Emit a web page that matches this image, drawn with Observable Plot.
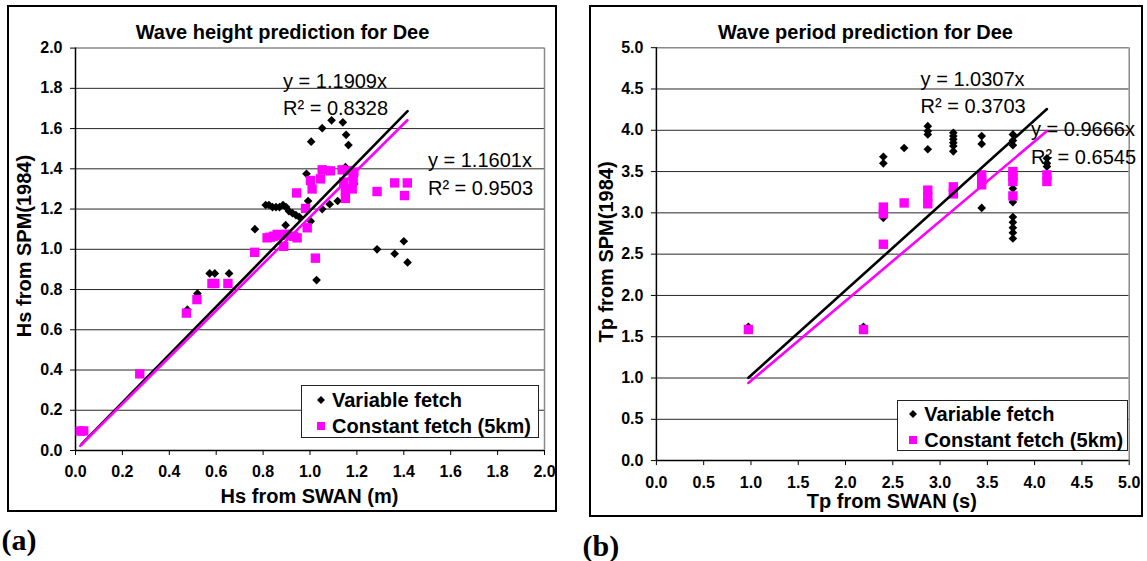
<!DOCTYPE html>
<html><head><meta charset="utf-8">
<script src="https://cdn.jsdelivr.net/npm/d3@7"></script>
<script src="https://cdn.jsdelivr.net/npm/@observablehq/plot@0.6"></script>
<style>
body{margin:0;background:#fff;font-family:"Liberation Sans",Arial,sans-serif;}
#root{position:relative;width:1147px;height:561px;overflow:hidden;background:#fff;}
.frame{position:absolute;border:2px solid #000;box-sizing:border-box;}
.ctr{position:absolute;white-space:nowrap;line-height:1;transform:translate(-50%,-50%);font-family:"Liberation Sans",Arial,sans-serif;}
.title{font-weight:bold;font-size:20px;}
.axl{font-weight:bold;font-size:20px;}
.rot{transform:translate(-50%,-50%) rotate(-90deg);}
.tag{position:absolute;font-family:"Liberation Serif","Times New Roman",serif;font-weight:bold;font-size:30px;line-height:30px;}
.legend{position:absolute;background:#fff;border:1.5px solid #222;box-sizing:border-box;}
.row{position:absolute;font-weight:bold;font-size:20px;line-height:1;white-space:nowrap;transform:translateY(-50%);}
.mk{position:absolute;transform:translate(-50%,-50%);}
svg.plotsvg{position:absolute;}
</style>
</head><body><div id="root"></div>
<script>
// ---------- data ----------
const hsTicks = [0, 0.2, 0.4, 0.6, 0.8, 1.0, 1.2, 1.4, 1.6, 1.8, 2.0];
const tpTicks = [0, 0.5, 1.0, 1.5, 2.0, 2.5, 3.0, 3.5, 4.0, 4.5, 5.0];
const seriesNames = ["Variable fetch", "Constant fetch (5km)"];

// (a) wave height, variable fetch
const hsVarX = [0.025,0.275,0.477,0.520,0.572,0.594,0.655,0.765,0.811,0.825,0.840,0.855,0.870,0.885,0.898,0.896,0.910,0.925,0.940,0.955,0.985,0.992,1.003,1.005,1.028,1.052,1.052,1.084,1.092,1.118,1.140,1.151,1.154,1.164,1.189,1.180,1.286,1.361,1.400,1.416];
const hsVarY = [0.10,0.38,0.70,0.78,0.88,0.88,0.88,1.10,1.22,1.22,1.21,1.21,1.21,1.22,1.21,1.12,1.19,1.18,1.17,1.16,1.375,1.24,1.14,1.535,0.847,1.602,1.20,1.224,1.641,1.24,1.631,1.409,1.569,1.518,1.325,1.35,1.00,0.978,1.04,0.935];
// (a) wave height, constant fetch
const hsConX = [0.020,0.035,0.274,0.473,0.518,0.582,0.594,0.650,0.764,0.817,0.830,0.845,0.860,0.875,0.888,0.900,0.930,0.945,0.943,0.981,0.988,1.002,1.009,1.023,1.045,1.052,1.087,1.137,1.161,1.144,1.151,1.151,1.180,1.184,1.187,1.286,1.361,1.415,1.403];
const hsConY = [0.097,0.097,0.381,0.683,0.750,0.830,0.830,0.830,0.985,1.057,1.060,1.065,1.074,1.070,1.015,1.075,1.065,1.057,1.280,1.203,1.107,1.342,1.300,0.956,1.350,1.395,1.390,1.395,1.390,1.334,1.292,1.253,1.300,1.342,1.384,1.287,1.330,1.330,1.267];
const hsVarSlope = 1.1909, hsConSlope = 1.1601;
const hsLabels = ["y = 1.1909x", "R² = 0.8328", "y = 1.1601x", "R² = 0.9503"];

// (b) wave period, variable fetch
const tpVarX = [0.973,2.19,2.40,2.40,2.40,2.62,2.87,2.87,2.87,2.87,3.14,3.14,3.14,3.14,3.14,3.14,3.44,3.44,3.44,3.77,3.77,3.77,3.77,3.77,3.77,3.77,3.77,3.77,3.77,4.13,4.13,4.13];
const tpVarY = [1.62,1.62,3.68,3.60,2.94,3.785,4.05,3.99,3.95,3.77,3.97,3.93,3.89,3.85,3.81,3.745,3.93,3.835,3.06,3.95,3.875,3.82,3.295,3.13,2.95,2.885,2.82,2.76,2.69,3.66,3.60,3.56];
// (b) wave period, constant fetch
const tpConX = [0.973,2.19,2.40,2.40,2.40,2.62,2.87,2.87,2.87,3.14,3.14,3.44,3.44,3.44,3.77,3.77,3.77,3.77,4.13,4.13];
const tpConY = [1.587,1.587,3.07,2.99,2.62,3.12,3.275,3.19,3.11,3.315,3.23,3.46,3.40,3.34,3.50,3.44,3.38,3.205,3.46,3.38];
const tpVarSlope = 1.0307, tpConSlope = 0.9666;
const tpLabels = ["y = 1.0307x", "R² = 0.3703", "y = 0.9666x", "R² = 0.6545"];

// ---------- drawing ----------
const root = document.getElementById("root");
const MAGENTA = "#ff00ff";
const diamondSym = d3.symbolDiamond2 || d3.symbolDiamond;
const fmt = d3.format(".1f");
const FONT = "'Liberation Sans', Arial, sans-serif";

function toRows(xs, ys) { return xs.map((x, i) => ({x, y: ys[i]})); }
function fit(xs, slope) { return d3.extent(xs).map(x => ({x, y: slope * x})); }

function el(tag, cls, css, text) {
  const e = document.createElement(tag);
  if (cls) e.className = cls;
  Object.assign(e.style, css || {});
  if (text != null) e.textContent = text;
  root.appendChild(e);
  return e;
}

function panel(cfg) {
  el("div", "frame", {left: cfg.left + "px", top: cfg.top + "px", width: cfg.width + "px", height: cfg.height + "px"});
  const max = cfg.ticks[cfg.ticks.length - 1];
  const svg = Plot.plot({
    width: cfg.width, height: cfg.height,
    marginLeft: cfg.mL, marginRight: cfg.mR, marginTop: cfg.mT, marginBottom: cfg.mB,
    x: {domain: [0, max]}, y: {domain: [0, max]},
    style: {fontFamily: FONT, fontSize: "16px", fontWeight: "bold", background: "transparent", overflow: "visible"},
    marks: [
      Plot.gridY(cfg.ticks.filter(t => t > 0 && t < max), {stroke: "#000", strokeOpacity: 0.85, strokeWidth: 1}),
      Plot.ruleY([max], {stroke: "#8a8a8a", strokeWidth: 1.5}),
      Plot.ruleX([max], {stroke: "#8a8a8a", strokeWidth: 1.5}),
      Plot.axisX(cfg.ticks, {tickSize: 5, tickPadding: cfg.padX, tickFormat: fmt, label: null, stroke: "#000",
        fontSize: 16, fontWeight: "bold", fontFamily: FONT}),
      Plot.axisY(cfg.ticks, {tickSize: 5, tickPadding: 8, tickFormat: fmt, label: null, stroke: "#000",
        fontSize: 16, fontWeight: "bold", fontFamily: FONT}),
      Plot.ruleY([0], {stroke: "#000", strokeWidth: 1.5}),
      Plot.ruleX([0], {stroke: "#000", strokeWidth: 1.5}),
      Plot.dot(toRows(cfg.varX, cfg.varY), {x: "x", y: "y", symbol: diamondSym, r: 3.9, fill: "#000", stroke: "none"}),
      Plot.dot(toRows(cfg.conX, cfg.conY), {x: "x", y: "y", symbol: "square", r: 5.3, fill: MAGENTA, stroke: "none"}),
      Plot.line(fit(cfg.varX, cfg.varSlope), {x: "x", y: "y", stroke: "#000", strokeWidth: 2.6}),
      Plot.line(fit(cfg.conX, cfg.conSlope), {x: "x", y: "y", stroke: MAGENTA, strokeWidth: 2.6}),
      Plot.text(cfg.labels, {x: (d, i) => cfg.notePos[i][0], y: (d, i) => cfg.notePos[i][1], text: d => d,
        textAnchor: "start", fontSize: 20, fontWeight: "normal", fontFamily: FONT, fill: "#000"})
    ]
  });
  svg.classList.add("plotsvg");
  svg.style.left = cfg.left + "px";
  svg.style.top = cfg.top + "px";
  root.appendChild(svg);

  el("div", "ctr title", {left: cfg.titleX + "px", top: cfg.titleY + "px"}, cfg.title);
  el("div", "ctr axl", {left: cfg.xlX + "px", top: cfg.xlY + "px", fontSize: "20px"}, cfg.xLabel);
  el("div", "ctr axl rot", {left: cfg.ylX + "px", top: cfg.ylY + "px", fontSize: "20px"}, cfg.yLabel);
  el("div", "tag", {left: cfg.tagX + "px", top: cfg.tagY + "px"}, cfg.tag);

  const lg = el("div", "legend", {left: cfg.lg[0] + "px", top: cfg.lg[1] + "px", width: cfg.lg[2] + "px", height: cfg.lg[3] + "px"});
  const ns = "http://www.w3.org/2000/svg";
  [0, 1].forEach(i => {
    const m = document.createElementNS(ns, "svg");
    m.setAttribute("width", 12); m.setAttribute("height", 12);
    m.setAttribute("class", "mk");
    m.style.left = cfg.lgMk + "px"; m.style.top = cfg.lgRows[i] + "px";
    const p = document.createElementNS(ns, "path");
    p.setAttribute("d", i === 0 ? "M6,2 L10,6 L6,10 L2,6 Z" : "M2,2 H10 V10 H2 Z");
    p.setAttribute("fill", i === 0 ? "#000" : MAGENTA);
    m.appendChild(p);
    lg.appendChild(m);
    const r = document.createElement("div");
    r.className = "row";
    r.style.left = cfg.lgTx + "px"; r.style.top = cfg.lgRows[i] + "px";
    r.textContent = seriesNames[i];
    lg.appendChild(r);
  });
}

panel({
  left: 7, top: 5, width: 550, height: 507,
  mL: 68, mR: 13, mT: 42.6, mB: 62,
  ticks: hsTicks, padX: 10,
  varX: hsVarX, varY: hsVarY, conX: hsConX, conY: hsConY,
  varSlope: hsVarSlope, conSlope: hsConSlope,
  labels: hsLabels,
  notePos: [[0.885, 1.834], [0.885, 1.701], [1.503, 1.439], [1.503, 1.303]],
  title: "Wave height prediction for Dee", titleX: 282.5, titleY: 32,
  xLabel: "Hs from SWAN (m)", xlX: 309.5, xlY: 495.5,
  yLabel: "Hs from SPM(1984)", ylX: 24.3, ylY: 246.3,
  tag: "(a)", tagX: 1.5, tagY: 525,
  lg: [301, 384.7, 237.5, 53.5], lgMk: 18.5, lgTx: 30, lgRows: [14.5, 40.5]
});

panel({
  left: 588.5, top: 5.4, width: 554, height: 511.5,
  mL: 66.9, mR: 14.3, mT: 42.2, mB: 56.4,
  ticks: tpTicks, padX: 11,
  varX: tpVarX, varY: tpVarY, conX: tpConX, conY: tpConY,
  varSlope: tpVarSlope, conSlope: tpConSlope,
  labels: tpLabels,
  notePos: [[2.794, 4.619], [2.794, 4.285], [3.961, 4.014], [3.961, 3.667]],
  title: "Wave period prediction for Dee", titleX: 865.5, titleY: 32.2,
  xLabel: "Tp from SWAN (s)", xlX: 891.8, xlY: 501,
  yLabel: "Tp from SPM(1984)", ylX: 605.7, ylY: 251.5,
  tag: "(b)", tagX: 582.5, tagY: 530.5,
  lg: [897.3, 399.7, 231, 51.5], lgMk: 15, lgTx: 26, lgRows: [13.6, 39.6]
});
</script>
</body></html>
